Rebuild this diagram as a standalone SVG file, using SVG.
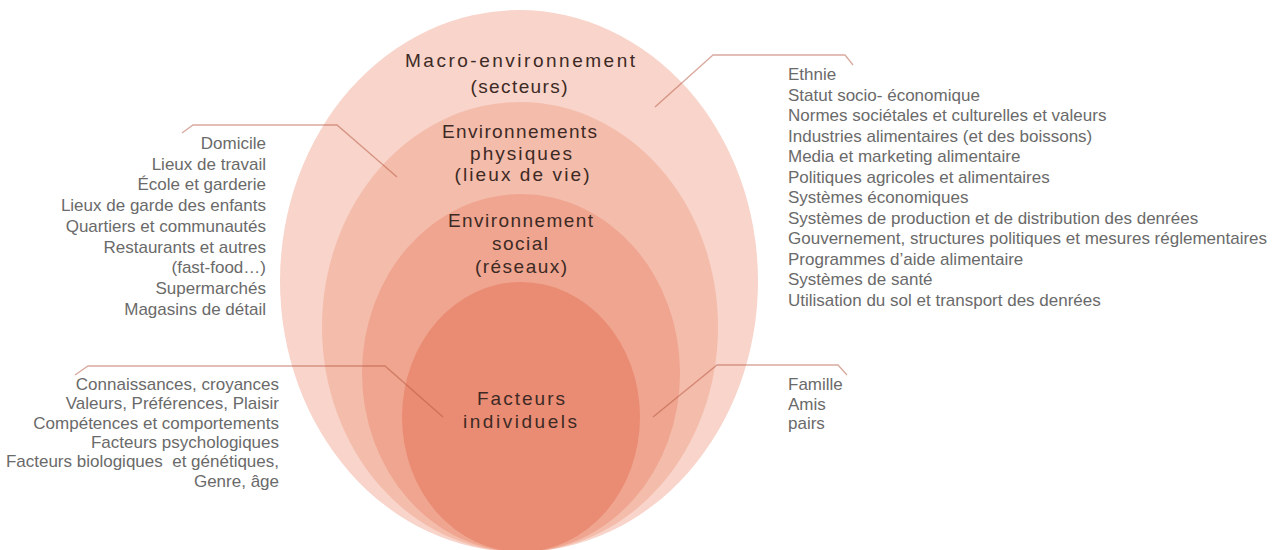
<svg xmlns="http://www.w3.org/2000/svg" width="1284" height="550" viewBox="0 0 1284 550">
<style>
.lbl{font-family:"Liberation Sans","Open Sans",sans-serif;font-size:19px;fill:#3d2a25;text-anchor:middle}
.lst{font-family:"Liberation Sans","Open Sans",sans-serif;font-size:17px;fill:#6a6a6a}
.r{text-anchor:end}
.con{fill:none;stroke:#b5533d;stroke-opacity:0.5;stroke-width:1.3}
</style>
<rect width="1284" height="550" fill="#ffffff"/>
<g id="macro">
<ellipse cx="519" cy="281" rx="239" ry="271" fill="#f8d4ca"/>
<text class="lbl" x="520" y="67" textLength="230" lengthAdjust="spacing">Macro-environnement</text>
<text class="lbl" x="519" y="93" textLength="97" lengthAdjust="spacing">(secteurs)</text>
</g>
<g id="physiques">
<ellipse cx="520" cy="327" rx="198" ry="225" fill="#f4bcab"/>
<text class="lbl" x="519.5" y="138" textLength="155" lengthAdjust="spacing">Environnements</text>
<text class="lbl" x="521" y="159.5" textLength="102" lengthAdjust="spacing">physiques</text>
<text class="lbl" x="522" y="181" textLength="135" lengthAdjust="spacing">(lieux de vie)</text>
</g>
<g id="social">
<ellipse cx="521" cy="373" rx="159" ry="179" fill="#efa58f"/>
<text class="lbl" x="520.5" y="227" textLength="145" lengthAdjust="spacing">Environnement</text>
<text class="lbl" x="520" y="250" textLength="56" lengthAdjust="spacing">social</text>
<text class="lbl" x="521" y="273" textLength="92" lengthAdjust="spacing">(réseaux)</text>
</g>
<g id="individuels">
<ellipse cx="521" cy="417" rx="119" ry="135" fill="#ea8c73"/>
<text class="lbl" x="521" y="405" textLength="88" lengthAdjust="spacing">Facteurs</text>
<text class="lbl" x="520" y="428" textLength="114" lengthAdjust="spacing">individuels</text>
</g>
<g id="connectors">
<path class="con" d="M655,107 L713,55 L845,55 L853,65"/>
<path class="con" d="M182,133 L193,125 L337,125 L397,177"/>
<path class="con" d="M75,375 L88,366 L385,366 L443,417"/>
<path class="con" d="M653,417 L717,365 L838,365 L847,375"/>
</g>
<g id="list-macro">
<text class="lst" x="788" y="80">Ethnie</text>
<text class="lst" x="788" y="100.5">Statut socio- économique</text>
<text class="lst" x="788" y="121">Normes sociétales et culturelles et valeurs</text>
<text class="lst" x="788" y="141.5">Industries alimentaires (et des boissons)</text>
<text class="lst" x="788" y="162">Media et marketing alimentaire</text>
<text class="lst" x="788" y="182.5">Politiques agricoles et alimentaires</text>
<text class="lst" x="788" y="203">Systèmes économiques</text>
<text class="lst" x="788" y="223.5">Systèmes de production et de distribution des denrées</text>
<text class="lst" x="788" y="244">Gouvernement, structures politiques et mesures réglementaires</text>
<text class="lst" x="788" y="264.5">Programmes d’aide alimentaire</text>
<text class="lst" x="788" y="285">Systèmes de santé</text>
<text class="lst" x="788" y="305.5">Utilisation du sol et transport des denrées</text>
</g>
<g id="list-physiques">
<text class="lst r" x="266" y="149">Domicile</text>
<text class="lst r" x="266" y="169.7">Lieux de travail</text>
<text class="lst r" x="266" y="190.4">École et garderie</text>
<text class="lst r" x="266" y="211.1">Lieux de garde des enfants</text>
<text class="lst r" x="266" y="231.8">Quartiers et communautés</text>
<text class="lst r" x="266" y="252.5">Restaurants et autres</text>
<text class="lst r" x="266" y="273.2">(fast-food…)</text>
<text class="lst r" x="266" y="293.9">Supermarchés</text>
<text class="lst r" x="266" y="314.6">Magasins de détail</text>
</g>
<g id="list-individuels">
<text class="lst r" x="279" y="390">Connaissances, croyances</text>
<text class="lst r" x="279" y="409.3">Valeurs, Préférences, Plaisir</text>
<text class="lst r" x="279" y="428.6">Compétences et comportements</text>
<text class="lst r" x="279" y="447.9">Facteurs psychologiques</text>
<text class="lst r" x="279" y="467.2" xml:space="preserve">Facteurs biologiques  et génétiques,</text>
<text class="lst r" x="279" y="486.5">Genre, âge</text>
</g>
<g id="list-social">
<text class="lst" x="788" y="390">Famille</text>
<text class="lst" x="788" y="409.5">Amis</text>
<text class="lst" x="788" y="429">pairs</text>
</g>
</svg>
